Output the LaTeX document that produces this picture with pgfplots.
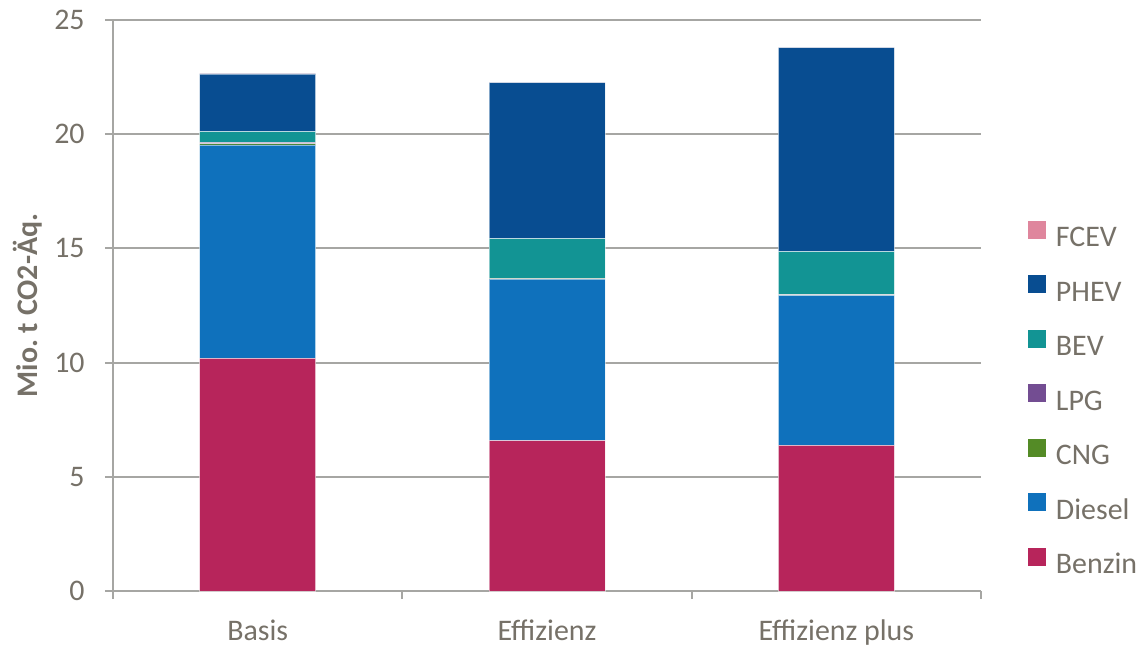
\documentclass[border=0pt]{standalone}
\usepackage{pgfplots}
\pgfplotsset{compat=1.18}
\usepackage{fontspec}
\setmainfont{Carlito}
\definecolor{txt}{RGB}{118,113,104}
\definecolor{grd}{RGB}{166,166,163}
\definecolor{cBenzin}{RGB}{183,37,91}
\definecolor{cDiesel}{RGB}{15,113,188}
\definecolor{cCNG}{RGB}{84,139,38}
\definecolor{cLPG}{RGB}{115,77,146}
\definecolor{cBEV}{RGB}{18,148,148}
\definecolor{cPHEV}{RGB}{8,77,145}
\definecolor{cFCEV}{RGB}{223,134,157}
\pgfplotsset{
  leg/.style={draw=white, draw opacity=0.5, line width=0.3bp, legend image code/.code={\fill[##1,draw=none] (0bp,0bp) rectangle (9bp,9bp);}},
}
\begin{document}
\begin{tikzpicture}
\path[use as bounding box] (-56.5bp,-28bp) rectangle (516.5bp,295.5bp);
\begin{axis}[
  at={(0,0)}, anchor=south west,
  scale only axis, width=434bp, height=285.5bp,
  xmin=-0.5, xmax=2.5, ymin=0, ymax=25,
  ybar stacked, bar width=58bp,
  xtick={0,1,2}, xticklabels={Basis,Effizienz,Effizienz plus},
  minor xtick={-0.5,0.5,1.5,2.5},
  ytick={0,5,10,15,20,25},
  axis lines*=left,
  ymajorgrids, grid style={grd, line width=1bp},
  axis line style={grd, line width=1bp},
  tick style={grd, line width=1bp},
  major tick length=4bp, minor tick length=4bp, tick align=outside,
  major x tick style={draw=none},
  /pgf/number format/assume math mode=true,
  ticklabel style={font=\fontsize{15}{18}\selectfont, text=txt},
  yticklabel style={inner sep=0pt, anchor=east, xshift=-10bp},
  xticklabel style={inner sep=0pt, anchor=base, yshift=-20.5bp},
  ylabel={Mio.\ t CO2-Äq.},
  ylabel style={font=\bfseries\fontsize{15}{18}\selectfont, text=txt, at={(axis description cs:-0.098,0.5)}, anchor=center, rotate=0},
  legend cell align=left,
  reverse legend,
  legend style={draw=none, fill=none, inner sep=0pt, outer sep=0pt,
    at={(1.0541,0.0193)}, anchor=south west,
    row sep=11.25bp, column sep=5bp,
    font=\fontsize{15}{18}\selectfont, text=txt,
    nodes={inner sep=0pt, text height=11bp, text depth=3bp}},
]
\addplot[leg, fill=cBenzin] coordinates {(0,10.19) (1,6.58) (2,6.38)};
\addplot[leg, fill=cDiesel] coordinates {(0,9.34) (1,7.07) (2,6.56)};
\addplot[leg, fill=cCNG] coordinates {(0,0.05) (1,0.03) (2,0.03)};
\addplot[leg, fill=cLPG] coordinates {(0,0.06) (1,0.02) (2,0.02)};
\addplot[leg, fill=cBEV] coordinates {(0,0.47) (1,1.73) (2,1.87)};
\addplot[leg, fill=cPHEV] coordinates {(0,2.53) (1,6.83) (2,8.93)};
\addplot[leg, fill=cFCEV] coordinates {(0,0.01) (1,0.01) (2,0.01)};
\legend{Benzin,Diesel,CNG,LPG,BEV,PHEV,FCEV}
\end{axis}
\end{tikzpicture}
\end{document}
